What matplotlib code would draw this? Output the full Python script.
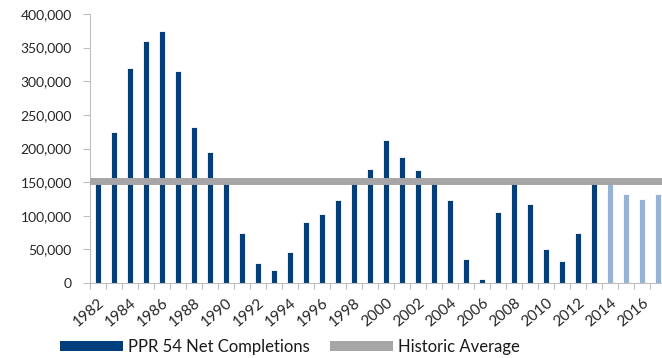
import matplotlib
matplotlib.use("Agg")
import matplotlib.pyplot as plt
from matplotlib.patches import Patch
from matplotlib.ticker import FuncFormatter, MultipleLocator

plt.rcParams['font.family'] = ['Lato', 'DejaVu Sans']

years = list(range(1982, 2018))
completions = [150000, 225000, 320000, 360000, 375000, 315000, 232000, 195000,
               155000, 75000, 29000, 20000, 46000, 91000, 103000, 123000,
               148000, 170000, 213000, 187000, 168000, 148000, 124000, 36000,
               6000, 106000, 148000, 118000, 51000, 32000, 74000, 150000,
               148000, 132000, 125000, 132000]
forecast_from = 2014
historic_average = 151000

dark_blue = '#003F7D'
light_blue = '#95B3D7'
grey = '#A6A6A6'

fig = plt.figure(figsize=(6.62, 3.58), dpi=100)
ax = fig.add_axes([90 / 662, 1 - 283 / 358, 576 / 662, 269 / 358])

x = list(range(len(years)))
colors = [light_blue if y >= forecast_from else dark_blue for y in years]
ax.bar(x, completions, width=0.42, color=colors, edgecolor='white',
       linewidth=0.6, zorder=2)
ax.axhline(historic_average, color=grey, linewidth=5, zorder=3)

ax.set_xlim(-0.5, len(years) - 0.5)
ax.set_ylim(0, 400000)
ax.yaxis.set_major_locator(MultipleLocator(50000))
ax.yaxis.set_major_formatter(FuncFormatter(lambda v, p: f'{int(v):,}'))

ax.set_xticks([i - 0.5 for i in range(len(years) + 1)], minor=False)
ax.set_xticklabels([])
ax.set_xticks(x[::2], minor=True)
ax.set_xticklabels([str(y) for y in years[::2]], minor=True, rotation=40,
                   ha='right', rotation_mode='anchor', fontsize=11,
                   color='#262626')
ax.tick_params(axis='x', which='minor', length=0, pad=9)
ax.tick_params(axis='x', which='major', length=4, color='#BFBFBF', width=0.8)
ax.tick_params(axis='y', length=5, color='#BFBFBF', width=0.8, labelsize=10,
               labelcolor='#262626', pad=8)

for side in ('top', 'right'):
    ax.spines[side].set_visible(False)
for side in ('left', 'bottom'):
    ax.spines[side].set_color('#BFBFBF')
    ax.spines[side].set_linewidth(0.8)

handles = [Patch(facecolor=dark_blue, edgecolor='none'),
           Patch(facecolor=grey, edgecolor='none')]
fig.legend(handles, ['PPR 54 Net Completions', 'Historic Average'],
           loc='center left', bbox_to_anchor=(60 / 662, 1 - 347 / 358),
           ncol=2, frameon=False, fontsize=12, handlelength=3.8,
           handleheight=0.6, handletextpad=0.3, columnspacing=1.2,
           borderpad=0, borderaxespad=0, labelcolor='#1a1a1a')

fig.savefig('out.png', dpi=100)
